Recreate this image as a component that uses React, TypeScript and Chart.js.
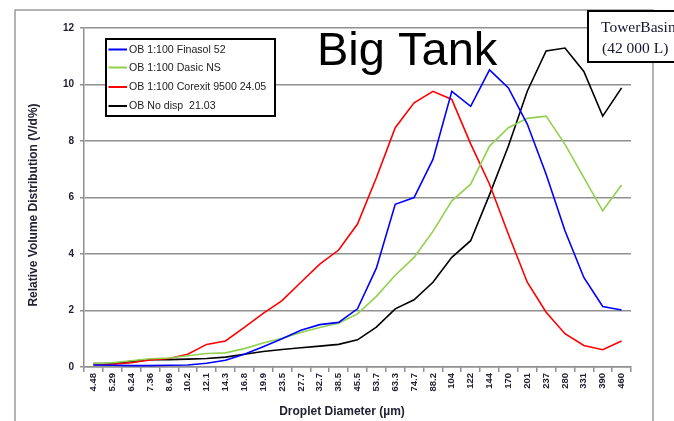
import React, { useEffect, useRef } from "react";
import { Chart, registerables } from "chart.js";

Chart.register(...registerables);

const categories = [
  "4.48", "5.29", "6.24", "7.36", "8.69", "10.2", "12.1", "14.3", "16.8", "19.9",
  "23.5", "27.7", "32.7", "38.5", "45.5", "53.7", "63.3", "74.7", "88.2", "104",
  "122", "144", "170", "201", "237", "280", "331", "390", "460",
];

const finasol = [
  0.07, 0.06, 0.05, 0.05, 0.06, 0.07, 0.13, 0.24, 0.45, 0.72,
  1.0, 1.3, 1.5, 1.58, 2.06, 3.5, 5.76, 6.0, 7.35, 9.76,
  9.23, 10.52, 9.88, 8.6, 6.82, 4.82, 3.17, 2.14, 2.02,
];
const dasic = [
  0.12, 0.15, 0.22, 0.29, 0.32, 0.4, 0.48, 0.5, 0.65, 0.85,
  1.02, 1.22, 1.4, 1.55, 1.88, 2.5, 3.25, 3.88, 4.8, 5.88,
  6.47, 7.82, 8.47, 8.8, 8.88, 7.88, 6.7, 5.53, 6.44,
];
const corexit = [
  0.08, 0.1, 0.15, 0.25, 0.3, 0.45, 0.8, 0.92, 1.4, 1.9,
  2.35, 3.0, 3.64, 4.14, 5.06, 6.7, 8.47, 9.35, 9.76, 9.47,
  7.9, 6.47, 4.7, 3.0, 1.94, 1.18, 0.76, 0.61, 0.92,
];
const noDisp = [
  0.12, 0.12, 0.2, 0.26, 0.26, 0.28, 0.3, 0.35, 0.45, 0.55,
  0.62, 0.68, 0.74, 0.8, 0.96, 1.41, 2.06, 2.38, 3.0, 3.88,
  4.47, 6.1, 7.82, 9.76, 11.19, 11.29, 10.46, 8.88, 9.88,
];

const seriesNames = [
  "OB 1:100 Finasol 52",
  "OB 1:100 Dasic NS",
  "OB 1:100 Corexit 9500 24.05",
  "OB No disp  21.03",
];
const seriesColors = ["#0000ff", "#92d050", "#ff0000", "#000000"];
const seriesValues = [finasol, dasic, corexit, noDisp];

const yTitle = "Relative Volume Distribution (V/d%)";
const xTitle = "Droplet Diameter (\u00b5m)";
const bigTitle = "Big Tank";
const boxLines = ["TowerBasin", "(42 000 L)"];

const annotations = {
  id: "annotations",
  beforeDraw(chart: any) {
    const ctx = chart.ctx;
    ctx.save();
    ctx.fillStyle = "#ffffff";
    ctx.fillRect(0, 0, chart.width, chart.height);
    ctx.strokeStyle = "#9a9a9a";
    ctx.lineWidth = 1.5;
    ctx.beginPath();
    ctx.moveTo(15, 430);
    ctx.lineTo(15, 10);
    ctx.lineTo(653, 10);
    ctx.lineTo(653, 430);
    ctx.stroke();
    ctx.restore();
  },
  afterDraw(chart: any) {
    const ctx = chart.ctx;
    ctx.save();
    // Legend box
    ctx.fillStyle = "#ffffff";
    ctx.fillRect(106, 39, 169, 77);
    ctx.strokeStyle = "#000000";
    ctx.lineWidth = 2;
    ctx.strokeRect(106, 39, 169, 77);
    const ys = [49.5, 67.5, 87, 106];
    ctx.font = "10.6px 'Liberation Sans', Arial, sans-serif";
    ctx.textBaseline = "middle";
    ctx.textAlign = "left";
    seriesNames.forEach((name, i) => {
      ctx.strokeStyle = seriesColors[i];
      ctx.lineWidth = 2;
      ctx.beginPath();
      ctx.moveTo(108.5, ys[i]);
      ctx.lineTo(127, ys[i]);
      ctx.stroke();
      ctx.fillStyle = "#222222";
      ctx.fillText(name, 129, ys[i] + 0.5);
    });
    // Big title
    ctx.fillStyle = "#000000";
    ctx.textBaseline = "alphabetic";
    ctx.font = "47px 'Liberation Sans', Arial, sans-serif";
    ctx.fillText(bigTitle, 317, 65);
    // TowerBasin box
    ctx.fillStyle = "#ffffff";
    ctx.fillRect(588, 11, 100, 51);
    ctx.strokeStyle = "#000000";
    ctx.lineWidth = 2;
    ctx.strokeRect(588, 11, 100, 51);
    ctx.fillStyle = "#151530";
    ctx.font = "15.5px 'Liberation Serif', 'Times New Roman', serif";
    ctx.fillText(boxLines[0], 601, 32);
    ctx.fillText(boxLines[1], 602, 53);
    // Axis titles
    ctx.fillStyle = "#222233";
    ctx.font = "bold 12px 'Liberation Sans', Arial, sans-serif";
    ctx.textAlign = "center";
    ctx.textBaseline = "middle";
    ctx.fillText(xTitle, 342, 412);
    ctx.translate(34, 205);
    ctx.rotate(-Math.PI / 2);
    ctx.fillText(yTitle, 0, 0);
    ctx.restore();
  },
};

export default function App() {
  const ref = useRef<HTMLCanvasElement | null>(null);

  useEffect(() => {
    if (!ref.current) return;
    const chart = new Chart(ref.current, {
      type: "line",
      data: {
        labels: categories,
        datasets: seriesValues.map((vals, i) => ({
          label: seriesNames[i],
          data: vals,
          borderColor: seriesColors[i],
          backgroundColor: seriesColors[i],
          borderWidth: 1.6,
          pointRadius: 0,
          tension: 0,
          fill: false,
        })),
      },
      options: {
        animation: false,
        responsive: false,
        maintainAspectRatio: false,
        devicePixelRatio: 1,
        layout: { padding: { left: 0, right: 43, top: 28, bottom: 0 } },
        plugins: {
          legend: { display: false },
          title: { display: false },
          tooltip: { enabled: false },
        },
        scales: {
          x: {
            offset: true,
            grid: {
              offset: true,
              drawOnChartArea: false,
              drawTicks: true,
              tickLength: 5,
              color: "#909090",
              lineWidth: 1.5,
            },
            border: { display: true, color: "#909090", width: 1.5 },
            ticks: {
              autoSkip: false,
              minRotation: 90,
              maxRotation: 90,
              padding: 1,
              color: "#222233",
              font: { family: "'Liberation Sans', Arial, sans-serif", size: 9.5, weight: "bold" },
            },
            afterFit: (scale: any) => {
              scale.height = 54;
            },
          },
          y: {
            min: 0,
            max: 12,
            ticks: {
              stepSize: 2,
              padding: 6,
              color: "#222233",
              font: { family: "'Liberation Sans', Arial, sans-serif", size: 10, weight: "bold" },
            },
            grid: {
              color: "#909090",
              lineWidth: 1.5,
              drawTicks: true,
              tickLength: 4,
            },
            border: { display: true, color: "#909090", width: 1.5 },
            afterFit: (scale: any) => {
              scale.width = 84;
            },
          },
        },
      },
      plugins: [annotations],
    });
    return () => chart.destroy();
  }, []);

  return (
    <div style={{ position: "fixed", left: 0, top: 0, width: 674, height: 421, background: "#fff" }}>
      <canvas ref={ref} width={674} height={421} style={{ display: "block", width: 674, height: 421 }} />
    </div>
  );
}
